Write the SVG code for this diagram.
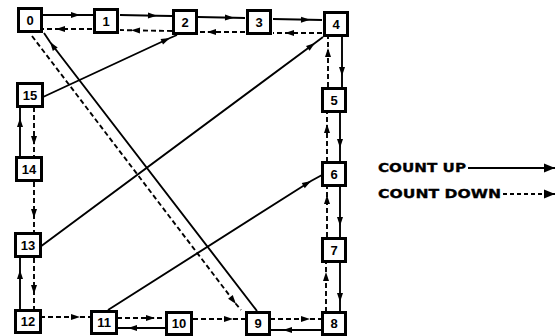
<svg xmlns="http://www.w3.org/2000/svg" width="558" height="336" viewBox="0 0 558 336">
<defs>
<marker id="ah" markerUnits="userSpaceOnUse" markerWidth="12" markerHeight="8" viewBox="-9 -4 10 8" refX="0" refY="0" orient="auto">
<path d="M0,0 L-9,-3 L-9,3 Z" fill="#000"/>
</marker>
<marker id="ahL" markerUnits="userSpaceOnUse" markerWidth="14" markerHeight="10" viewBox="-11 -5 12 10" refX="0" refY="0" orient="auto">
<path d="M0,0 L-11,-4.5 L-11,4.5 Z" fill="#000"/>
</marker>
<style>
.box{fill:#fff;stroke:#000;stroke-width:3}
.lbl{font-family:"Liberation Sans",Arial,sans-serif;font-weight:bold;font-size:13px;text-anchor:middle;fill:#000}
.up{fill:none;stroke:#000;stroke-width:1.9;marker-mid:url(#ah)}
.dn{fill:none;stroke:#000;stroke-width:1.9;stroke-dasharray:5,3;marker-mid:url(#ah)}
.leg{font-family:"DejaVu Sans",sans-serif;font-weight:bold;font-size:12px;fill:#000;stroke:#000;stroke-width:0.3}
.legl{fill:none;stroke:#000;stroke-width:1.9;marker-end:url(#ahL)}
</style>
</defs>
<g id="connectors">
<path class="up" d="M43,15 L80,15 L93,15"/>
<path class="dn" d="M92,29 L56,29 L43,29"/>
<path class="up" d="M120,15 L157,15.7 L172,16"/>
<path class="dn" d="M172,31 L131,30.3 L120,30"/>
<path class="up" d="M198,17 L234,17.8 L245,18"/>
<path class="dn" d="M245,32 L207,32 L198,32"/>
<path class="up" d="M273,19 L310,19.8 L322,20"/>
<path class="dn" d="M322,33 L285,33 L273,33"/>
<path class="up" d="M342,37 L342,76 L342,87"/>
<path class="dn" d="M328,87 L328,48 L328,37"/>
<path class="up" d="M340,112 L340,148 L340,162"/>
<path class="dn" d="M327,162 L327,124 L327,112"/>
<path class="up" d="M340,187 L340,226 L340,237"/>
<path class="dn" d="M327,237 L327,195 L327,187"/>
<path class="up" d="M340,263 L340,302 L340,312"/>
<path class="dn" d="M326,312 L326,272 L326,263"/>
<path class="up" d="M322,330 L283,330 L270,330"/>
<path class="dn" d="M270,319 L310,319 L322,319"/>
<path class="dn" d="M193,319 L233,319 L245,319"/>
<path class="up" d="M165,328 L128,328 L117,328"/>
<path class="dn" d="M117,318 L155,318 L165,318"/>
<path class="dn" d="M40,317 L80,317 L91,317"/>
<path class="up" d="M20,310 L20,270 L20,258"/>
<path class="dn" d="M34,258 L34,294 L34,310"/>
<path class="dn" d="M34,182 L34,218 L34,233"/>
<path class="up" d="M20,157 L20,118 L20,107"/>
<path class="dn" d="M34,107 L34,145 L34,157"/>
<path class="up" d="M43,97 L170,38 L177,35"/>
<path class="up" d="M40,247 L315,43 L323,37"/>
<path class="up" d="M108,310 L311,181 L322,175"/>
<path class="up" d="M257,311 L50,42 L44,33"/>
<path class="dn" d="M32,36 L236,304 L241,310"/>
</g>
<g id="n0"><rect class="box" x="18.5" y="8.5" width="23" height="23"/><text class="lbl" x="30" y="24.5">0</text></g>
<g id="n1"><rect class="box" x="94.5" y="9.5" width="23" height="23"/><text class="lbl" x="106" y="25.5">1</text></g>
<g id="n2"><rect class="box" x="173.5" y="10.5" width="23" height="23"/><text class="lbl" x="185" y="26.5">2</text></g>
<g id="n3"><rect class="box" x="247.5" y="10.5" width="23" height="23"/><text class="lbl" x="259" y="26.5">3</text></g>
<g id="n4"><rect class="box" x="324.5" y="12.5" width="23" height="23"/><text class="lbl" x="336" y="28.5">4</text></g>
<g id="n5"><rect class="box" x="322.5" y="88.5" width="23" height="23"/><text class="lbl" x="334" y="104.5">5</text></g>
<g id="n6"><rect class="box" x="322.5" y="162.5" width="23" height="23"/><text class="lbl" x="334" y="178.5">6</text></g>
<g id="n7"><rect class="box" x="322.5" y="238.5" width="23" height="23"/><text class="lbl" x="334" y="254.5">7</text></g>
<g id="n8"><rect class="box" x="322.5" y="312.5" width="23" height="22"/><text class="lbl" x="334" y="328">8</text></g>
<g id="n9"><rect class="box" x="246.5" y="312.5" width="23" height="22"/><text class="lbl" x="258" y="328">9</text></g>
<g id="n10"><rect class="box" x="166.5" y="312.5" width="25" height="22"/><text class="lbl" x="179" y="328">10</text></g>
<g id="n11"><rect class="box" x="91.5" y="311.5" width="25" height="22"/><text class="lbl" x="104" y="327">11</text></g>
<g id="n12"><rect class="box" x="15.5" y="310.5" width="25" height="22"/><text class="lbl" x="28" y="326">12</text></g>
<g id="n13"><rect class="box" x="15.5" y="233.5" width="25" height="23"/><text class="lbl" x="28" y="249.5">13</text></g>
<g id="n14"><rect class="box" x="16.5" y="157.5" width="25" height="23"/><text class="lbl" x="29" y="173.5">14</text></g>
<g id="n15"><rect class="box" x="17.5" y="83.5" width="25" height="23"/><text class="lbl" x="30" y="99.5">15</text></g>
<g id="legend">
<text class="leg" x="378" y="172" textLength="88" lengthAdjust="spacingAndGlyphs">COUNT UP</text>
<path class="legl" d="M468,168 L555,168"/>
<text class="leg" x="378" y="198" textLength="123" lengthAdjust="spacingAndGlyphs">COUNT DOWN</text>
<path class="legl" style="stroke-dasharray:4,3" d="M503,194 L555,194"/>
</g>
</svg>
